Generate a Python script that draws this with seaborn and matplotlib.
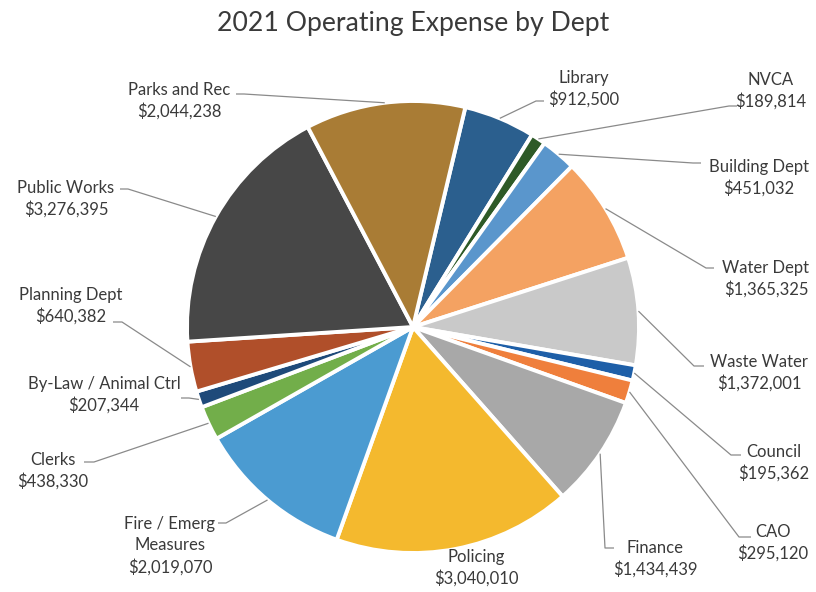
import matplotlib
matplotlib.use("Agg")
import matplotlib.pyplot as plt
import seaborn as sns
import numpy as np

# ---- data ----
departments = ["Library", "NVCA", "Building Dept", "Water Dept", "Waste Water",
               "Council", "CAO", "Finance", "Policing", "Fire / Emerg\nMeasures",
               "Clerks", "By-Law / Animal Ctrl", "Planning Dept", "Public Works",
               "Parks and Rec"]
expenses = [912500, 189814, 451032, 1365325, 1372001,
            195362, 295120, 1434439, 3040010, 2019070,
            438330, 207344, 640382, 3276395, 2044238]
slice_colors = ["#2b5f8e", "#2e5a27", "#5a96cc", "#f4a262", "#c9c9c9",
                "#1e5fa8", "#ef7f3c", "#a8a8a8", "#f4b92e", "#4b9bd1",
                "#72ae4a", "#1e4a7a", "#b04f2a", "#474747", "#a97c35"]
title = "2021 Operating Expense by Dept"

# ---- layout (pixels) ----
label_xy = [(584, 89), (771, 91), (759, 178), (766, 279), (759, 373),
            (774, 463), (773, 543), (655, 559), (476, 568), (170, 546),
            (53, 471), (104, 395), (71, 306), (66, 199), (179, 101)]
leader_anchor = [(544, 101), (737, 106), (701, 163), (714, 268), (704, 366),
                 (741, 455), (751, 537), (614, 548), None, (218, 523),
                 (84, 462), (181, 398), (113, 322), (120, 189), (236, 94)]
leader_elbow = [(536, 101), (729, 106), (693, 163), (706, 268), (694, 366),
                (731, 455), (739, 537), (605, 548), None, (226, 523),
                (94, 462), (189, 398), (122, 322), (128, 189), (244, 94)]

sns.set_theme(style="white")
plt.rcParams["font.family"] = ["Lato", "DejaVu Sans"]
palette = sns.color_palette(slice_colors)

W, H = 816, 592
fig = plt.figure(figsize=(W / 100, H / 100), dpi=100)
ax = fig.add_axes([0, 0, 1, 1])

cx, cy, R = 413, 327, 226
wedges, _ = ax.pie(expenses, colors=palette, center=(cx, cy), radius=R,
                   startangle=283.4, counterclock=True,
                   wedgeprops=dict(edgecolor="white", linewidth=2.8))
ax.set_xlim(0, W)
ax.set_ylim(H, 0)
ax.set_aspect("equal")
ax.axis("off")

text_color = "#3a3a3a"
line_color = "#8a8a8a"

for w, name, val, lxy, anc, elb in zip(wedges, departments, expenses,
                                       label_xy, leader_anchor, leader_elbow):
    ax.text(lxy[0], lxy[1], f"{name}\n${val:,.0f}", ha="center", va="center",
            fontsize=12, color=text_color, linespacing=1.38)
    if anc is not None:
        mid = np.deg2rad((w.theta1 + w.theta2) / 2)
        sx, sy = cx + R * np.cos(mid), cy + R * np.sin(mid)
        ax.plot([sx, elb[0], anc[0]], [sy, elb[1], anc[1]],
                color=line_color, lw=0.9, solid_capstyle="butt")

ax.text(413, 24, title, ha="center", va="center", fontsize=19.2, color=text_color)

fig.savefig("out.png", dpi=100, facecolor="white")
